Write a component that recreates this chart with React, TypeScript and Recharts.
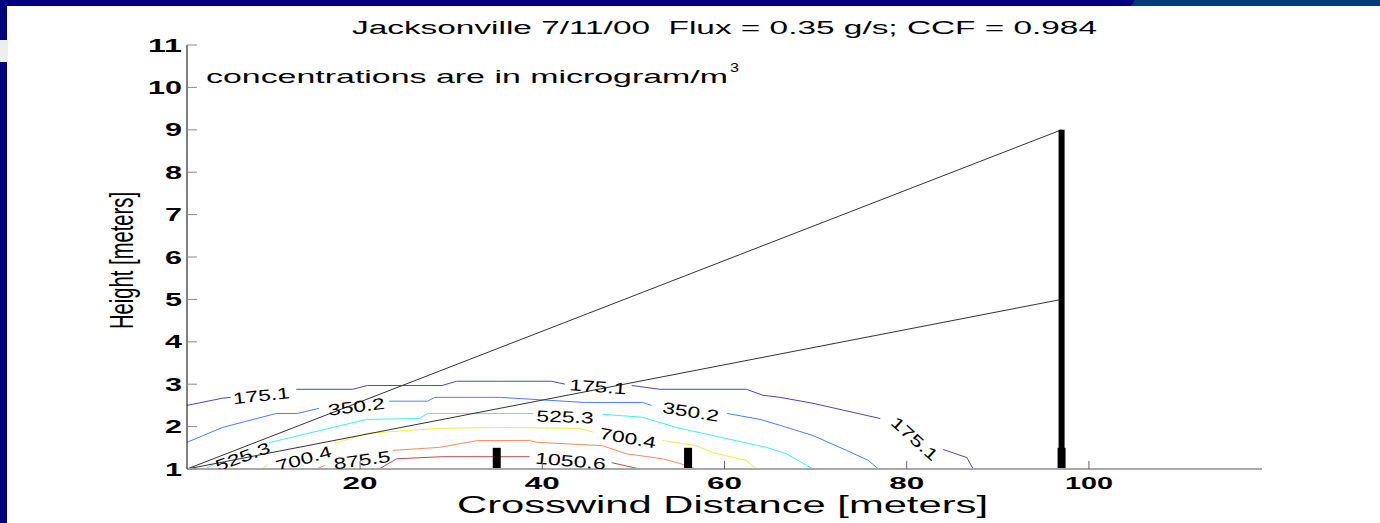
import React from 'react';
import { ComposedChart, Line, Scatter, XAxis, YAxis } from 'recharts';

type Pair = [number, number | null];

// tick values
const xTicks = [20, 40, 60, 80, 100];
const yTicks = [1, 2, 3, 4, 5, 6, 7, 8, 9, 10, 11];

// contour lines, null = break where clabel sits
const c175: Pair[] = [[1, 2.5], [4.9, 2.67], [5.8, 2.69], [5.9, null], [13, 2.88], [19.2, 2.88], [20.8, 2.97], [29, 2.97], [30.6, 3.07], [41, 3.07], [42.5, 3.0], [46, null], [49.8, 2.97], [52.9, 2.88], [62.4, 2.88], [64.2, 2.74], [66.1, 2.69], [69.7, 2.55], [77.1, 2.19], [80, null], [84, 1.46], [86.6, 1.27], [87.3, 1.0]];
const c350: Pair[] = [[1, 1.63], [4.9, 1.98], [10.8, 2.31], [13.1, 2.31], [15.5, 2.43], [16, null], [23.2, 2.6], [27.4, 2.6], [28.2, 2.69], [35.3, 2.69], [44.6, 2.57], [51, 2.57], [52, 2.5], [55, null], [60.3, 2.31], [63.9, 2.17], [66.1, 2.03], [69.7, 1.79], [73.4, 1.44], [75.8, 1.2], [76.9, 1.0]];
const c525: Pair[] = [[3, 1.0], [4, 1.12], [4.5, null], [10, 1.62], [20.7, 2.17], [26.5, 2.19], [27.4, 2.31], [39, 2.31], [42, null], [46.6, 2.29], [51, 2.22], [54.7, 1.98], [58.7, 1.79], [64.6, 1.51], [66.8, 1.36], [69.7, 1.0]];
const c700: Pair[] = [[9.2, 1.0], [9.9, 1.1], [10.5, null], [17.2, 1.6], [20.7, 1.84], [28.7, 1.96], [35.3, 1.98], [44, 1.96], [45.6, 1.87], [48, null], [53.2, 1.67], [56.9, 1.55], [58.7, 1.39], [62.4, 1.2], [63.5, 1.0]];
const c875: Pair[] = [[15.2, 1.0], [16.2, 1.09], [17, null], [23.6, 1.44], [28.7, 1.51], [32.9, 1.67], [38.6, 1.67], [39.4, 1.63], [46.6, 1.55], [49.2, 1.36], [53.2, 1.24], [55.1, 1.13], [56.9, 1.0]];
const c1050: Pair[] = [[22.1, 1.0], [24, 1.24], [29, 1.29], [38.6, 1.29], [42, null], [47.6, 1.15], [50.7, 1.0]];

// sight lines from the source corner to the tower
const upperRay: Pair[] = [[1, 1], [97, 9]];
const lowerRay: Pair[] = [[1, 1], [97, 5]];

// samplers
const tower: Pair[] = [[97, 1], [97, 9]];
const poleX = [35, 56, 97];
const poleTop = 1.5;

// contour labels
const labelTexts = ['175.1', '350.2', '525.3', '700.4', '875.5', '175.1', '525.3', '350.2', '700.4', '1050.6', '175.1'];
const labelX = [9.15, 19.6, 7.1, 13.8, 20.2, 46.1, 42.5, 56.3, 49.4, 43.1, 80.9];
const labelY = [2.74, 2.48, 1.3, 1.25, 1.22, 2.95, 2.24, 2.36, 1.74, 1.2, 1.72];
const labelAngle = [-6, -7, -20, -16, -8, 4, 2, 9, 10, 5, 42];

const toPts = (a: Pair[]) => a.map(([x, y]) => ({ x, y }));
const labelData = labelTexts.map((t, i) => ({ x: labelX[i], y: labelY[i], text: t, rot: labelAngle[i] }));

const contours = [
    { pts: c175, color: '#4848b8' },
    { pts: c350, color: '#4a80f5' },
    { pts: c525, color: '#3ff0f0' },
    { pts: c700, color: '#f0f040' },
    { pts: c875, color: '#fa8a60' },
    { pts: c1050, color: '#bb4a4a' },
];

const FONT = '"Liberation Sans", Arial, sans-serif';

const LeftTick = (p: any) => {
    const ax = p.x + 5;
    const s = String(p.payload.value);
    return (
        <g>
            <line x1={ax} x2={ax + 10} y1={p.y} y2={p.y} stroke='#888' />
            <text x={p.x} y={p.y + 6.5} textAnchor='end' fontFamily={FONT} fontWeight='bold' fontSize={18}
                textLength={17 * s.length} lengthAdjust='spacingAndGlyphs' fill='#000'>{s}</text>
        </g>
    );
};

const RightTick = (p: any) => (
    <line x1={p.x} x2={p.x - 11} y1={p.y} y2={p.y} stroke='#888' />
);

const BottomTick = (p: any) => {
    const ay = p.y - 9;
    const s = String(p.payload.value);
    return (
        <g>
            <line x1={p.x} x2={p.x} y1={ay} y2={ay - 8} stroke='#666' />
            <text x={p.x} y={ay + 19.5} textAnchor='middle' fontFamily={FONT} fontWeight='bold' fontSize={16.5}
                textLength={s.length === 3 ? 48 : 35} lengthAdjust='spacingAndGlyphs' fill='#000'>{s}</text>
        </g>
    );
};

const TopTick = (p: any) => (
    <line x1={p.x} x2={p.x} y1={p.y} y2={p.y + 8} stroke='#666' />
);

const ClabelShape = (p: any) => {
    const { cx, cy, payload } = p;
    return (
        <text x={cx} y={cy} dy={6} textAnchor='middle' fontFamily={FONT} fontSize={16}
            textLength={payload.text.length === 6 ? 71 : 57} lengthAdjust='spacingAndGlyphs'
            transform={`rotate(${payload.rot}, ${cx}, ${cy})`} fill='#000'>{payload.text}</text>
    );
};

const App = () => {
    return (
        <div style={{ position: 'absolute', left: 0, top: 0, width: 1380, height: 523, background: '#fff', overflow: 'hidden' }}>
            {/* slide frame */}
            <div style={{ position: 'absolute', left: 0, top: 0, width: 1380, height: 6, background: '#000080' }} />
            <div style={{ position: 'absolute', left: 1131, top: 0, width: 249, height: 6, background: '#043a73', clipPath: 'polygon(4px 0, 100% 0, 100% 100%, 0 100%)' }} />
            <div style={{ position: 'absolute', left: 0, top: 0, width: 7, height: 40, background: '#000080' }} />
            <div style={{ position: 'absolute', left: 0, top: 40, width: 8, height: 22, background: '#eeeeee' }} />
            <div style={{ position: 'absolute', left: 0, top: 62, width: 7, height: 461, background: '#000080' }} />

            <ComposedChart width={1380} height={523} margin={{ top: 45, right: 118, bottom: 0, left: 0 }}
                style={{ position: 'absolute', left: 0, top: 0 }}>
                <XAxis dataKey='x' type='number' domain={[1, 119]} allowDataOverflow ticks={xTicks} height={54}
                    tickSize={0} tickMargin={9} tickLine={false} tick={BottomTick}
                    axisLine={{ stroke: '#a8a8a8', strokeWidth: 2 }} />
                <XAxis xAxisId='top' dataKey='x' orientation='top' type='number' domain={[1, 119]} allowDataOverflow
                    ticks={xTicks} height={0} tickSize={0} tickMargin={0} tickLine={false} tick={TopTick}
                    axisLine={{ stroke: '#555' }} />
                <YAxis dataKey='y' type='number' domain={[1, 11]} allowDataOverflow ticks={yTicks} width={187}
                    tickSize={0} tickMargin={5} tickLine={false} tick={LeftTick} axisLine={{ stroke: '#000' }} />
                <YAxis yAxisId='r' orientation='right' type='number' domain={[1, 11]} allowDataOverflow ticks={yTicks}
                    width={0} tickSize={0} tickMargin={0} tickLine={false} tick={RightTick} axisLine={{ stroke: '#999' }} />

                {contours.map((c, i) => (
                    <Line key={'c' + i} data={toPts(c.pts)} dataKey='y' type='linear' stroke={c.color} strokeWidth={1}
                        dot={false} activeDot={false} connectNulls={false} isAnimationActive={false} />
                ))}
                <Scatter data={labelData} dataKey='y' shape={ClabelShape} isAnimationActive={false} />
                <Line data={toPts(upperRay)} dataKey='y' stroke='#333' strokeWidth={1} dot={false} isAnimationActive={false} />
                <Line data={toPts(lowerRay)} dataKey='y' stroke='#333' strokeWidth={1} dot={false} isAnimationActive={false} />
                <Line data={toPts(tower)} dataKey='y' stroke='#000' strokeWidth={6} dot={false} isAnimationActive={false} />
                {poleX.map((px) => (
                    <Line key={'p' + px} data={[{ x: px, y: 1 }, { x: px, y: poleTop }]} dataKey='y' stroke='#000'
                        strokeWidth={8} dot={false} isAnimationActive={false} />
                ))}
            </ComposedChart>

            <svg width={1380} height={523} style={{ position: 'absolute', left: 0, top: 0, pointerEvents: 'none' }}>
                <text x={724.5} y={34} textAnchor='middle' fontFamily={FONT} fontSize={18} textLength={745}
                    lengthAdjust='spacingAndGlyphs' style={{ whiteSpace: 'pre' }}>
                    {'Jacksonville 7/11/00  Flux = 0.35 g/s; CCF = 0.984'}
                </text>
                <text x={206} y={83} fontFamily={FONT} fontSize={19} textLength={522} lengthAdjust='spacingAndGlyphs'>
                    concentrations are in microgram/m
                </text>
                <text x={730} y={72} fontFamily={FONT} fontSize={13} textLength={9} lengthAdjust='spacingAndGlyphs'>3</text>
                <text transform='translate(133, 260.5) rotate(-90)' textAnchor='middle' fontFamily={FONT} fontSize={33}
                    textLength={137} lengthAdjust='spacingAndGlyphs'>Height [meters]</text>
                <text x={722.5} y={513} textAnchor='middle' fontFamily={FONT} fontSize={23} textLength={531}
                    lengthAdjust='spacingAndGlyphs'>Crosswind Distance [meters]</text>
            </svg>
        </div>
    );
};

export default App;
